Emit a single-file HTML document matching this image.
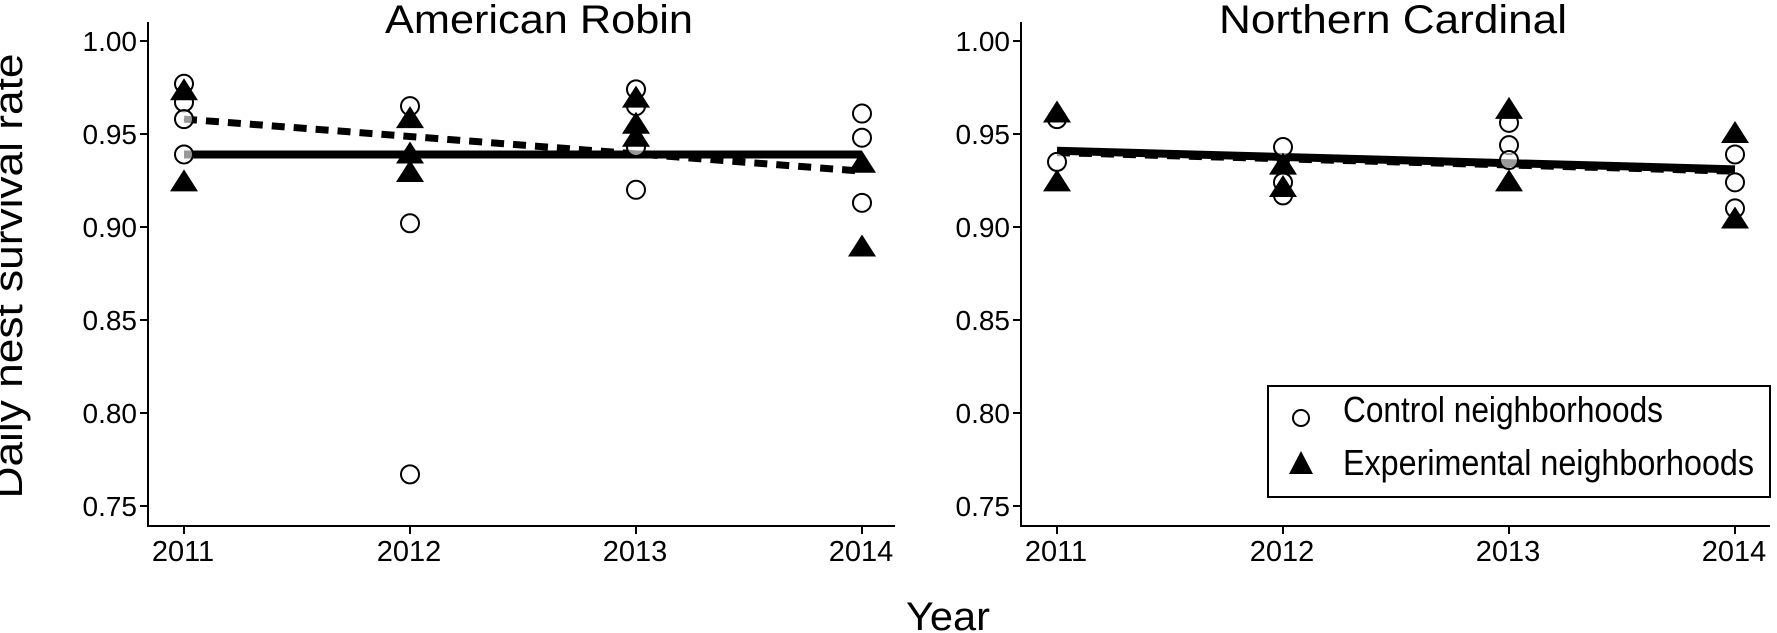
<!DOCTYPE html>
<html><head><meta charset="utf-8"><style>
html,body{margin:0;padding:0;background:#fff;}
svg{display:block;}
text{font-family:"Liberation Sans",sans-serif;fill:#000;}
</style></head><body>
<svg id="chart" width="1777" height="633" viewBox="0 0 1777 633">
<text x="22" y="276" font-size="40" text-anchor="middle" transform="rotate(-90 22 276)" textLength="445" lengthAdjust="spacingAndGlyphs">Daily nest survival rate</text>
<text x="906" y="630" font-size="40" textLength="84" lengthAdjust="spacingAndGlyphs">Year</text>
<g id="legend">
<rect x="1268" y="386" width="502" height="111" fill="#fff" stroke="#000" stroke-width="2"/>
<circle cx="1301" cy="418" r="8" fill="#fff" stroke="#000" stroke-width="2"/>
<polygon points="1289,474 1313,474 1301,451" fill="#000"/>
<text x="1343" y="422" font-size="36" textLength="320" lengthAdjust="spacingAndGlyphs">Control neighborhoods</text>
<text x="1343" y="475" font-size="36" textLength="411" lengthAdjust="spacingAndGlyphs">Experimental neighborhoods</text>
</g>
</svg>
<script>
const years = [2011, 2012, 2013, 2014];
const yTicks = [1.00, 0.95, 0.90, 0.85, 0.80, 0.75];
const robinControlYears = [2011, 2011, 2011, 2011, 2012, 2012, 2012, 2013, 2013, 2013, 2013, 2014, 2014, 2014];
const robinControl = [0.977, 0.967, 0.958, 0.939, 0.965, 0.902, 0.767, 0.974, 0.965, 0.943, 0.920, 0.961, 0.948, 0.913];
const robinExpYears = [2011, 2011, 2012, 2012, 2012, 2013, 2013, 2013, 2014, 2014];
const robinExp = [0.973, 0.924, 0.958, 0.939, 0.929, 0.969, 0.955, 0.948, 0.934, 0.889];
const robinSolid = [0.939, 0.939];
const robinDashed = [0.958, 0.930];
const cardControlYears = [2011, 2011, 2012, 2012, 2012, 2013, 2013, 2013, 2014, 2014, 2014];
const cardControl = [0.958, 0.935, 0.943, 0.924, 0.917, 0.956, 0.944, 0.936, 0.939, 0.924, 0.910];
const cardExpYears = [2011, 2011, 2012, 2012, 2013, 2013, 2014, 2014];
const cardExp = [0.961, 0.924, 0.933, 0.921, 0.963, 0.924, 0.950, 0.904];
const cardSolid = [0.941, 0.931];
const cardDashed = [0.940, 0.930];

const svg = document.getElementById('chart');
const NS = 'http://www.w3.org/2000/svg';
function mk(tag, attrs) {
  const e = document.createElementNS(NS, tag);
  for (const k in attrs) e.setAttribute(k, attrs[k]);
  return e;
}
function yScale(v) { return 413 - (v - 0.80) / 0.05 * 93; }

const panels = [
  {name: 'american-robin', title: 'American Robin', axisX: 148, x2011: 184, xEnd: 895, titleX: 385, titleLen: 308,
   cy: robinControlYears, cv: robinControl, ey: robinExpYears, ev: robinExp, solid: robinSolid, dashed: robinDashed},
  {name: 'northern-cardinal', title: 'Northern Cardinal', axisX: 1021, x2011: 1057, xEnd: 1770, titleX: 1219, titleLen: 348,
   cy: cardControlYears, cv: cardControl, ey: cardExpYears, ev: cardExp, solid: cardSolid, dashed: cardDashed}
];
const legend = document.getElementById('legend');

panels.forEach(p => {
  const g = mk('g', {});
  
  
  svg.insertBefore(g, legend);
  const xScale = yr => p.x2011 + (yr - 2011) * 226;

  const t = mk('text', {x: p.titleX, y: 33, 'font-size': 40, textLength: p.titleLen, lengthAdjust: 'spacingAndGlyphs'});
  t.textContent = p.title;
  
  
  g.appendChild(t);

  const ya = mk('line', {x1: p.axisX, y1: 22, x2: p.axisX, y2: 527, stroke: '#000', 'stroke-width': 2});
  
  
  g.appendChild(ya);
  const xa = mk('line', {x1: p.axisX - 1, y1: 526, x2: p.xEnd, y2: 526, stroke: '#000', 'stroke-width': 2});
  
  
  g.appendChild(xa);

  yTicks.forEach(v => {
    const y = yScale(v);
    const tk = mk('line', {x1: p.axisX - 8, y1: y, x2: p.axisX, y2: y, stroke: '#000', 'stroke-width': 2});
    
    
    g.appendChild(tk);
    const lb = mk('text', {x: p.axisX - 11, y: y + 10, 'font-size': 28, 'text-anchor': 'end'});
    lb.textContent = v.toFixed(2);
    
    
    g.appendChild(lb);
  });
  years.forEach(yr => {
    const x = xScale(yr);
    const tk = mk('line', {x1: x, y1: 526, x2: x, y2: 534, stroke: '#000', 'stroke-width': 2});
    
    
    g.appendChild(tk);
    const lb = mk('text', {x: x - 1, y: 561, 'font-size': 29, 'text-anchor': 'middle'});
    lb.textContent = String(yr);
    
    
    g.appendChild(lb);
  });

  const sl = mk('line', {x1: xScale(2011), y1: yScale(p.solid[0]), x2: xScale(2014), y2: yScale(p.solid[1]), stroke: '#000', 'stroke-width': 8});
  
  
  g.appendChild(sl);
  const dl = mk('line', {x1: xScale(2011), y1: yScale(p.dashed[0]), x2: xScale(2014), y2: yScale(p.dashed[1]), stroke: '#000', 'stroke-width': 7, 'stroke-dasharray': '13 9'});
  
  
  g.appendChild(dl);

  p.cv.forEach((v, i) => {
    const c = mk('circle', {cx: xScale(p.cy[i]), cy: yScale(v), r: 9, fill: '#fff', 'fill-opacity': 0.6, stroke: '#000', 'stroke-width': 2});
    
    
    g.appendChild(c);
  });
  p.ev.forEach((v, i) => {
    const x = xScale(p.ey[i]), y = yScale(v);
    const tr = mk('polygon', {points: (x - 14) + ',' + (y + 9) + ' ' + (x + 14) + ',' + (y + 9) + ' ' + x + ',' + (y - 13), fill: '#000'});
    
    
    g.appendChild(tr);
  });
});
</script>
</body></html>
